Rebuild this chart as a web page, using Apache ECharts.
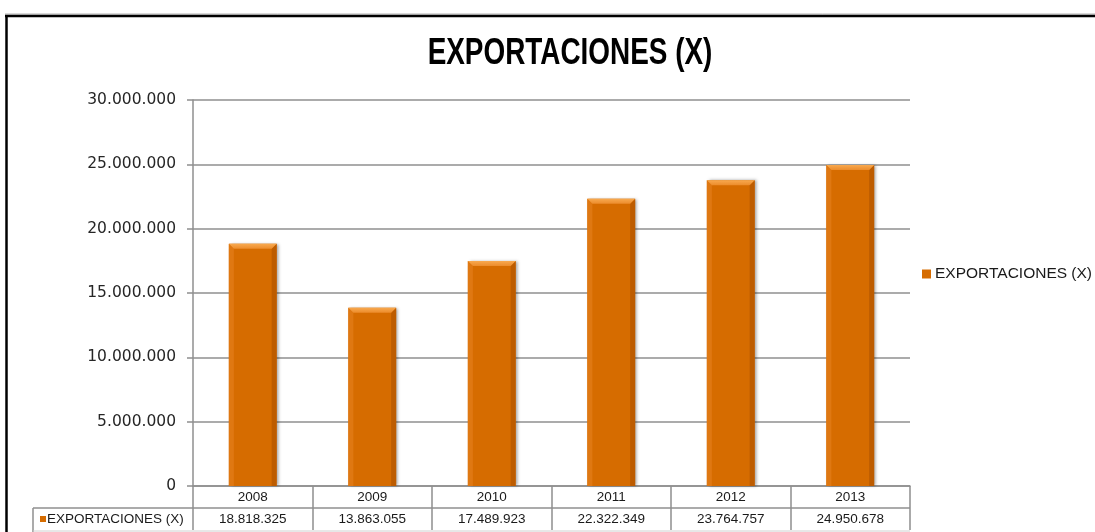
<!DOCTYPE html>
<html>
<head>
<meta charset="utf-8">
<title>EXPORTACIONES (X)</title>
<script src="https://cdn.jsdelivr.net/npm/echarts@6/dist/echarts.min.js"></script>
<style>
  html, body { margin: 0; padding: 0; background: #fff; }
  #chart { width: 1095px; height: 532px; }
</style>
</head>
<body>
<div id="chart"></div>
<script>
// Annual exports, 2008–2013
const years = ['2008', '2009', '2010', '2011', '2012', '2013'];
const exportValues = [18818325, 13863055, 17489923, 22322349, 23764757, 24950678];
const seriesName = 'EXPORTACIONES (X)';
const chartTitle = 'EXPORTACIONES (X)';
const yTicks = { min: 0, max: 30000000, interval: 5000000 };

// Spanish-style thousands separator
function fmt(n) {
  return String(n).replace(/\B(?=(\d{3})+(?!\d))/g, '.');
}

const W = 1095, H = 532;
const GRID = { left: 193, right: 185, top: 100, bottom: 46 };
const ROW_H = 22;
const GRID_COLOR = '#8f8f8f';
const ORANGE = '#d66c00';
const SANS = '"Liberation Sans", Arial, sans-serif';

const chart = echarts.init(document.getElementById('chart'), null, { renderer: 'canvas' });

// Bevelled column: main face plus light top/left and darker right edges
function renderBar(params, api) {
  const idx = api.value(0);
  const val = api.value(1);
  const top = api.coord([idx, val]);
  const base = api.coord([idx, 0]);
  const band = api.size([1, 0])[0];
  const w = band * 0.40;
  const x0 = top[0] - w / 2, x1 = top[0] + w / 2;
  const y0 = top[1], yB = base[1];
  const b = 5;
  return {
    type: 'group',
    children: [
      {
        type: 'rect',
        shape: { x: x0, y: y0, width: w, height: yB - y0 },
        style: { fill: ORANGE, shadowColor: 'rgba(0,0,0,0.35)', shadowBlur: 3, shadowOffsetX: 2, shadowOffsetY: 0 }
      },
      {
        type: 'polygon',
        shape: { points: [[x0, y0], [x0 + b, y0 + b], [x0 + b, yB], [x0, yB]] },
        style: { fill: '#df7812' }
      },
      {
        type: 'polygon',
        shape: { points: [[x1, y0], [x1, yB], [x1 - b, yB], [x1 - b, y0 + b]] },
        style: { fill: '#bd5c00' }
      },
      {
        type: 'polygon',
        shape: { points: [[x0, y0], [x1, y0], [x1 - b, y0 + b], [x0 + b, y0 + b]] },
        style: {
          fill: new echarts.graphic.LinearGradient(0, 0, 0, 1, [
            { offset: 0, color: '#f8a94f' },
            { offset: 1, color: '#ec8c2c' }
          ])
        }
      }
    ]
  };
}

const option = {
  animation: false,
  backgroundColor: '#ffffff',
  legend: {
    data: [{ name: seriesName, icon: 'rect' }],
    left: 922,
    top: 266,
    padding: 0,
    itemWidth: 9,
    itemHeight: 9,
    itemGap: 0,
    textStyle: {
      fontFamily: SANS,
      fontSize: 15.5,
      color: '#1a1a1a',
      padding: [0, 0, 0, -1]
    }
  },
  grid: GRID,
  xAxis: {
    type: 'category',
    data: years,
    boundaryGap: true,
    axisLine: { show: true, lineStyle: { color: GRID_COLOR, width: 1.5 } },
    axisTick: {
      show: true,
      interval: 0,
      alignWithLabel: false,
      length: ROW_H * 2,
      lineStyle: { color: GRID_COLOR, width: 1.5 }
    },
    axisLabel: {
      interval: 0,
      margin: 0,
      verticalAlign: 'top',
      formatter: function (value, i) {
        return '{y|' + value + '}\n{v|' + fmt(exportValues[i]) + '}';
      },
      rich: {
        y: { fontFamily: SANS, fontSize: 13.5, color: '#1a1a1a', lineHeight: ROW_H, height: ROW_H, verticalAlign: 'middle' },
        v: { fontFamily: SANS, fontSize: 13.5, color: '#1a1a1a', lineHeight: ROW_H, height: ROW_H, verticalAlign: 'middle' }
      }
    }
  },
  yAxis: {
    type: 'value',
    min: yTicks.min,
    max: yTicks.max,
    interval: yTicks.interval,
    axisLine: { show: true, lineStyle: { color: GRID_COLOR, width: 1.5 } },
    axisTick: { show: true, length: 6, lineStyle: { color: GRID_COLOR, width: 1.5 } },
    axisLabel: {
      margin: 17,
      fontFamily: '"DejaVu Sans", Verdana, sans-serif',
      fontSize: 15.5,
      color: '#262626',
      formatter: function (v) { return fmt(v); }
    },
    splitLine: { show: true, lineStyle: { color: GRID_COLOR, width: 1.5 } }
  },
  series: [{
    name: seriesName,
    type: 'custom',
    renderItem: renderBar,
    itemStyle: { color: ORANGE },
    encode: { x: 0, y: 1 },
    data: exportValues.map(function (v, i) { return [i, v]; }),
    z: 3
  }]
};

chart.setOption(option);

// Title, data-table frame, row header and outer chart border
const zeroY = chart.convertToPixel({ yAxisIndex: 0 }, 0);
const rowY = zeroY + ROW_H;
const tableLeft = 33;
const gridRight = W - GRID.right;
const lineStyle = { stroke: GRID_COLOR, lineWidth: 1.5 };

chart.setOption({
  graphic: [
    {
      type: 'text', x: 570, y: 54, scaleX: 0.775, silent: true,
      style: {
        text: chartTitle,
        fontFamily: SANS,
        fontWeight: 'bold',
        fontSize: 36,
        fill: '#000',
        align: 'center',
        verticalAlign: 'middle'
      }
    },
    { type: 'line', shape: { x1: tableLeft, y1: rowY, x2: gridRight, y2: rowY }, style: lineStyle, silent: true },
    { type: 'line', shape: { x1: tableLeft, y1: rowY, x2: tableLeft, y2: H }, style: lineStyle, silent: true },
    { type: 'line', shape: { x1: tableLeft, y1: H - 1, x2: gridRight, y2: H - 1 }, style: { stroke: '#d0d0d0', lineWidth: 1 }, silent: true },
    { type: 'rect', shape: { x: 40, y: rowY + ROW_H / 2 - 3, width: 6, height: 6 }, style: { fill: ORANGE }, silent: true },
    {
      type: 'text', x: 47, y: rowY + ROW_H / 2, silent: true,
      style: {
        text: seriesName,
        fontFamily: SANS,
        fontSize: 13.5,
        fill: '#1a1a1a',
        verticalAlign: 'middle',
        align: 'left'
      }
    },
    // outer border of the chart object
    { type: 'line', shape: { x1: 5, y1: 14, x2: W, y2: 14 }, style: { stroke: '#b0b0b0', lineWidth: 1 }, silent: true },
    { type: 'line', shape: { x1: 5, y1: 16, x2: W, y2: 16 }, style: { stroke: '#000', lineWidth: 2.5 }, silent: true },
    { type: 'line', shape: { x1: 6.5, y1: 15, x2: 6.5, y2: H }, style: { stroke: '#000', lineWidth: 2.5 }, silent: true }
  ]
});
</script>
</body>
</html>
